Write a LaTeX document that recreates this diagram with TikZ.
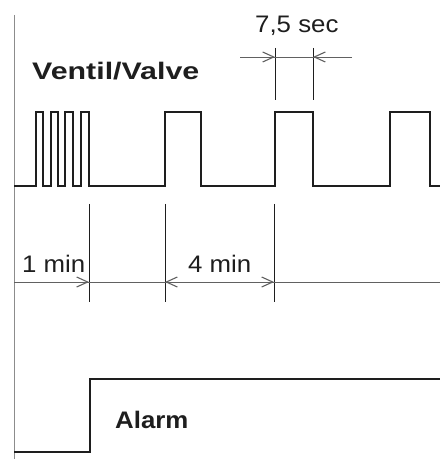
\documentclass[tikz,border=0pt]{standalone}
\usepackage{fontspec}
\setmainfont{Liberation Sans}[FakeStretch=1.08]
\newfontfamily\widesans{Liberation Sans}[FakeStretch=1.27]
\usetikzlibrary{arrows.meta}
\definecolor{ink}{HTML}{1E1E1E}
\definecolor{axisgray}{HTML}{8C8C8C}
\begin{document}
\begin{tikzpicture}[x=1bp,y=-1bp,
  signal/.style={line width=1.4bp,ink,line join=miter},
  dimline/.style={line width=0.7bp,ink!70},
  tick/.style={line width=0.7bp,ink},
  dimtip/.style={-{Straight Barb[length=11bp,width=10bp,line width=1.1bp]},line width=0.7bp,ink!70},
  lbl/.style={anchor=base west,inner sep=0pt,font=\fontsize{24}{28}\selectfont,text=ink},
  title/.style={lbl,font=\fontsize{24}{28}\selectfont\bfseries}]
\useasboundingbox (0,0) rectangle (440,459);
% time axis
\draw[line width=0.9bp,axisgray] (14,15) -- (14,459);
% valve signal
\draw[signal] (14,186) \foreach \a/\b in {36/43,51/58,65/73,81/89,165/201,275/313,390/430}
  { -- (\a,186) -- (\a,112) -- (\b,112) -- (\b,186) } -- (440,186);
\node[title,font=\fontsize{24}{28}\widesans\bfseries] (valve) at (32,80) {Ventil/Valve};
% pulse width
\draw[tick] (275,48) -- (275,100);
\draw[tick] (313,48) -- (313,100);
\draw[dimline] (240,57) -- (352,57);
\draw[dimtip] (240,57) -- (275,57);
\draw[dimtip] (352,57) -- (313,57);
\node[lbl] (pulse) at (255,33) {7,5 sec};
% intervals
\foreach \x in {89,165,274} \draw[tick] (\x,204) -- (\x,302);
\draw[dimline] (14,282) -- (440,282);
\draw[dimtip] (40,282) -- (89,282);
\draw[dimtip] (200,282) -- (165,282);
\draw[dimtip] (230,282) -- (274,282);
\node[lbl] (burst) at (22,272) {1 min};
\node[lbl] (pause) at (188,272) {4 min};
% alarm signal
\draw[signal] (14,452) -- (90,452) -- (90,379) -- (440,379);
\node[title] (alarm) at (115,428) {Alarm};
\end{tikzpicture}
\end{document}
